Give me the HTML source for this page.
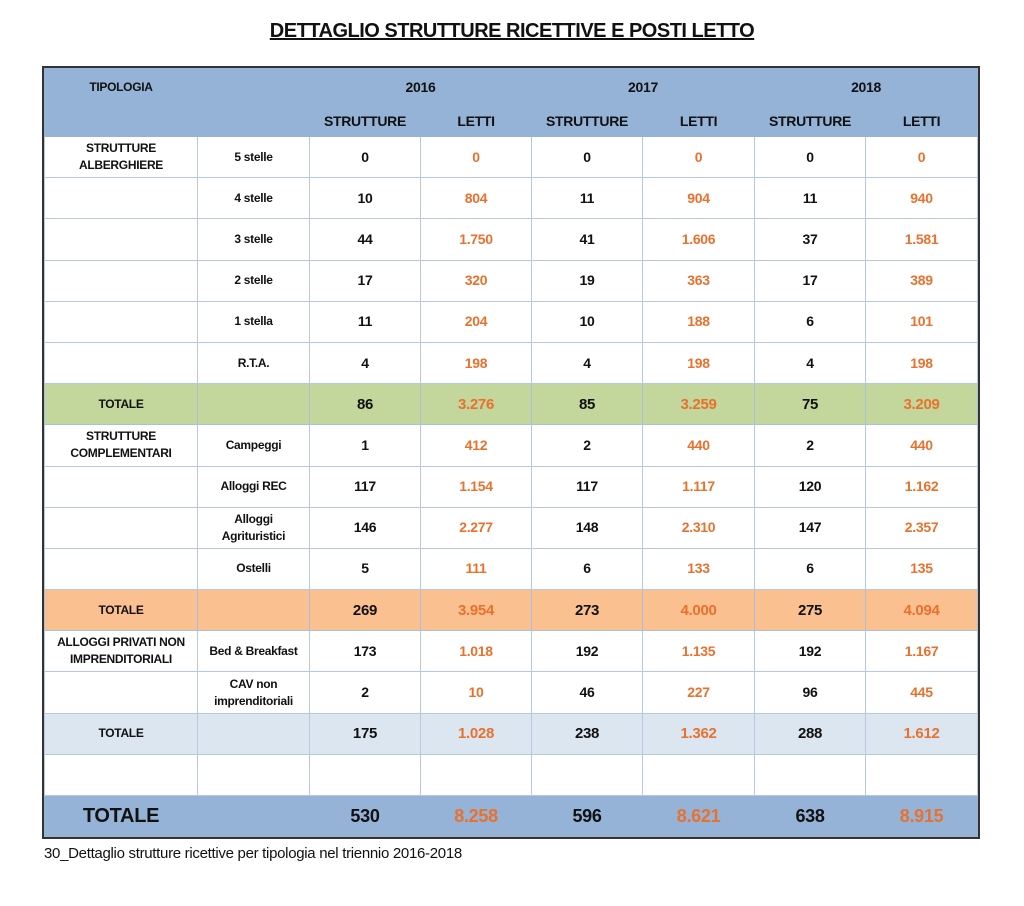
<!DOCTYPE html>
<html><head><meta charset="utf-8">
<style>
body{margin:0;width:1024px;height:906px;background:#fff;font-family:"Liberation Sans",Arial,sans-serif;position:relative;overflow:hidden}
#title{position:absolute;left:0;width:1024px;top:20px;text-align:center;font-weight:bold;font-size:20px;text-decoration:underline;color:#111;letter-spacing:-0.5px}
#tbl{position:absolute;left:44px;top:68px;width:933px;border-collapse:collapse;table-layout:fixed;outline:2px solid #333;outline-offset:0}
#tbl tr{height:41.2px}
#tbl td{border:1.5px solid #b7c9e2;text-align:center;font-weight:bold;font-size:14px;color:#111;padding:0;line-height:17px;letter-spacing:-0.3px}
#tbl td.s{font-size:12px;line-height:17px;letter-spacing:-0.3px}
#tbl td.o{color:#e8712e}
.hd td{background:#95b3d7;border-color:#95b3d7!important}
.g td{background:#c3d69b;border-color:#a9c0dc!important;font-size:15px!important}
.or td{background:#fac090;border-color:#a9c0dc!important;font-size:15px!important}
.lb td{background:#dce6f1;font-size:15px!important}
.ft td{background:#95b3d7;border-color:#95b3d7!important;font-size:18px!important}
#cap{position:absolute;left:44px;top:845px;font-size:15px;color:#111;letter-spacing:-0.3px}
</style></head><body>
<div id="title">DETTAGLIO STRUTTURE RICETTIVE E POSTI LETTO</div>
<table id="tbl">
<colgroup><col style="width:153px"><col style="width:112px"><col style="width:111px"><col style="width:111px"><col style="width:111px"><col style="width:112px"><col style="width:111px"><col style="width:112px"></colgroup>
<tr class="hd" style="height:37px"><td class="s">TIPOLOGIA</td><td></td><td colspan="2">2016</td><td colspan="2">2017</td><td colspan="2">2018</td></tr>
<tr class="hd" style="height:31px"><td></td><td></td><td>STRUTTURE</td><td>LETTI</td><td>STRUTTURE</td><td>LETTI</td><td>STRUTTURE</td><td>LETTI</td></tr>
<tr><td class="s">STRUTTURE<br>ALBERGHIERE</td><td class="s">5 stelle</td><td>0</td><td class="o">0</td><td>0</td><td class="o">0</td><td>0</td><td class="o">0</td></tr>
<tr><td></td><td class="s">4 stelle</td><td>10</td><td class="o">804</td><td>11</td><td class="o">904</td><td>11</td><td class="o">940</td></tr>
<tr><td></td><td class="s">3 stelle</td><td>44</td><td class="o">1.750</td><td>41</td><td class="o">1.606</td><td>37</td><td class="o">1.581</td></tr>
<tr><td></td><td class="s">2 stelle</td><td>17</td><td class="o">320</td><td>19</td><td class="o">363</td><td>17</td><td class="o">389</td></tr>
<tr><td></td><td class="s">1 stella</td><td>11</td><td class="o">204</td><td>10</td><td class="o">188</td><td>6</td><td class="o">101</td></tr>
<tr><td></td><td class="s">R.T.A.</td><td>4</td><td class="o">198</td><td>4</td><td class="o">198</td><td>4</td><td class="o">198</td></tr>
<tr class="g"><td class="s" style="font-size:12px!important">TOTALE</td><td></td><td>86</td><td class="o">3.276</td><td>85</td><td class="o">3.259</td><td>75</td><td class="o">3.209</td></tr>
<tr><td class="s">STRUTTURE<br>COMPLEMENTARI</td><td class="s">Campeggi</td><td>1</td><td class="o">412</td><td>2</td><td class="o">440</td><td>2</td><td class="o">440</td></tr>
<tr><td></td><td class="s">Alloggi REC</td><td>117</td><td class="o">1.154</td><td>117</td><td class="o">1.117</td><td>120</td><td class="o">1.162</td></tr>
<tr><td></td><td class="s">Alloggi<br>Agrituristici</td><td>146</td><td class="o">2.277</td><td>148</td><td class="o">2.310</td><td>147</td><td class="o">2.357</td></tr>
<tr><td></td><td class="s">Ostelli</td><td>5</td><td class="o">111</td><td>6</td><td class="o">133</td><td>6</td><td class="o">135</td></tr>
<tr class="or"><td class="s" style="font-size:12px!important">TOTALE</td><td></td><td>269</td><td class="o">3.954</td><td>273</td><td class="o">4.000</td><td>275</td><td class="o">4.094</td></tr>
<tr><td class="s">ALLOGGI PRIVATI NON<br>IMPRENDITORIALI</td><td class="s">Bed &amp; Breakfast</td><td>173</td><td class="o">1.018</td><td>192</td><td class="o">1.135</td><td>192</td><td class="o">1.167</td></tr>
<tr><td></td><td class="s">CAV non<br>imprenditoriali</td><td>2</td><td class="o">10</td><td>46</td><td class="o">227</td><td>96</td><td class="o">445</td></tr>
<tr class="lb"><td class="s" style="font-size:12px!important">TOTALE</td><td></td><td>175</td><td class="o">1.028</td><td>238</td><td class="o">1.362</td><td>288</td><td class="o">1.612</td></tr>
<tr><td></td><td></td><td></td><td></td><td></td><td></td><td></td><td></td></tr>
<tr class="ft"><td style="font-size:20px!important">TOTALE</td><td></td><td>530</td><td class="o">8.258</td><td>596</td><td class="o">8.621</td><td>638</td><td class="o">8.915</td></tr>
</table>
<div id="cap">30_Dettaglio strutture ricettive per tipologia nel triennio 2016-2018</div>
</body></html>
